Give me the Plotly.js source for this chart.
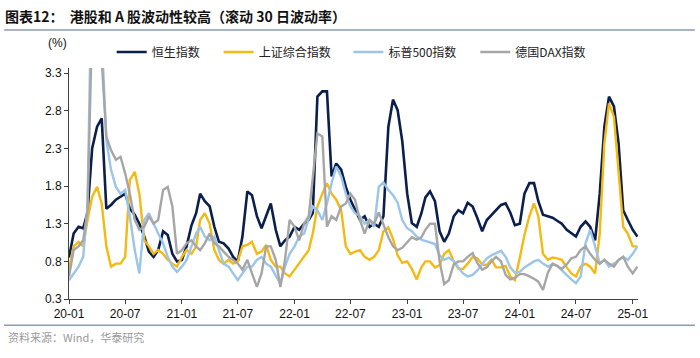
<!DOCTYPE html>
<html>
<head>
<meta charset="utf-8">
<script src="https://cdn.plot.ly/plotly-3.0.1.min.js"></script>
<style>html,body{margin:0;padding:0;background:#fff;}#chart{width:700px;height:358px;}</style>
</head>
<body>
<div id="chart"></div>
<script>
// Half-month sample grid starting 2020-01-01 (1st and 16th of each month)
const nPoints = 122;
const dates = [];
for (let i = 0; i < nPoints; i++) {
  const m = Math.floor(i / 2);
  const yr = 2020 + Math.floor(m / 12);
  const mo = (m % 12) + 1;
  dates.push(yr + '-' + String(mo).padStart(2, '0') + '-' + (i % 2 ? '16' : '01'));
}

const seriesNames = ['恒生指数', '上证综合指数', '标普500指数', '德国DAX指数'];

const hsi = [0.85,1.17,1.26,1.24,1.45,2.3,2.59,2.7,1.5,1.55,
1.62,1.66,1.7,1.5,1.42,1.3,1.13,0.93,0.86,0.95,
1.2,1.15,0.9,0.8,0.82,1.0,1.28,1.44,1.7,1.6,
1.53,1.26,1.06,1.04,0.97,0.86,0.8,1.13,1.73,1.68,
1.4,1.24,1.4,1.57,1.22,1.0,1.08,1.13,1.26,1.22,
1.3,1.35,1.44,2.99,3.06,3.06,1.93,2.1,2.02,1.79,
1.62,1.48,1.35,1.4,1.26,1.3,1.26,1.4,2.59,2.95,
2.81,2.4,1.7,1.31,1.26,1.44,1.65,1.73,1.6,1.2,
1.06,1.17,1.4,1.48,1.44,1.58,1.53,1.38,1.2,1.35,
1.42,1.48,1.55,1.57,1.45,1.28,1.3,1.7,1.84,1.84,
1.6,1.42,1.4,1.38,1.34,1.3,1.22,1.17,1.13,1.26,
1.33,1.26,1.08,1.7,2.59,2.99,2.86,2.37,1.48,1.35,
1.22,1.13];

const sse = [0.7,1.0,1.06,1.0,1.35,1.66,1.79,1.57,1.0,0.73,
0.77,0.77,0.86,1.88,1.99,1.7,1.08,1.0,0.9,0.95,
0.9,0.82,0.77,0.73,0.86,0.95,0.9,1.0,1.35,1.44,
1.3,0.95,0.82,0.77,0.82,0.77,0.8,1.0,1.02,1.06,
0.9,0.93,1.02,0.82,0.73,0.73,0.64,0.6,0.69,0.77,
0.86,0.95,1.17,1.53,1.7,1.84,1.7,1.62,1.48,1.0,
0.9,0.93,0.95,0.86,0.82,0.86,0.95,1.2,1.25,1.1,
0.88,0.78,0.8,0.7,0.56,0.72,0.8,0.8,0.72,0.75,
0.9,0.95,0.8,0.7,0.7,0.77,0.86,0.84,0.76,0.75,
0.82,0.72,0.72,0.74,0.6,0.55,0.85,1.15,1.4,1.57,
1.4,0.9,0.82,0.85,0.84,0.82,0.72,0.64,0.6,0.73,
0.77,0.73,0.64,1.17,2.37,2.9,2.72,2.02,1.26,1.17,
1.0,1.0];

const spx = [0.55,0.64,0.73,0.86,1.53,5.0,5.2,3.8,2.41,2.02,
1.79,1.7,1.75,1.4,0.95,0.64,1.35,1.44,1.3,1.17,
1.04,0.86,0.73,0.66,0.73,0.82,1.0,1.17,1.26,1.13,
1.08,1.13,0.95,0.77,0.73,0.64,0.55,0.64,0.73,0.73,
0.82,0.86,0.77,0.73,0.6,0.5,0.73,0.9,1.0,1.13,
1.17,1.35,1.53,1.48,1.35,1.57,1.84,2.06,1.93,1.7,
1.53,1.44,1.4,1.3,1.35,1.26,1.79,1.85,1.75,1.68,
1.58,1.35,1.24,1.2,1.13,1.09,1.07,1.05,1.03,0.88,
0.82,0.85,0.8,0.72,0.64,0.6,0.62,0.68,0.76,0.84,
0.88,0.91,0.94,0.86,0.72,0.65,0.66,0.72,0.76,0.8,
0.82,0.77,0.73,0.76,0.74,0.68,0.62,0.56,0.51,0.6,
1.04,1.22,1.0,0.77,0.82,0.73,0.77,0.82,0.86,0.82,
0.9,1.0];

const dax = [0.6,0.95,1.0,1.08,1.48,4.0,4.5,3.5,2.46,2.28,
2.15,2.19,1.97,1.7,1.35,1.22,1.26,1.4,1.3,1.35,
1.75,1.79,1.53,0.9,0.95,1.04,1.08,1.0,0.95,1.04,
1.17,1.04,1.0,0.93,0.86,0.82,0.77,0.69,0.82,0.64,
0.46,0.64,1.0,1.0,0.82,0.46,0.82,1.35,1.26,1.08,
1.3,1.4,1.93,2.5,2.46,1.26,1.4,1.35,1.53,1.57,
1.7,1.62,1.35,1.17,1.35,1.3,1.45,1.3,1.12,1.0,
0.95,0.98,1.06,1.12,1.09,1.12,1.22,1.3,1.3,0.8,
0.5,0.55,0.76,0.8,0.8,0.86,0.91,0.78,0.69,0.72,
0.8,0.86,0.8,0.62,0.56,0.58,0.63,0.63,0.6,0.57,
0.53,0.42,0.65,0.77,0.74,0.7,0.76,0.84,0.86,0.95,
1.0,0.9,0.82,0.77,0.82,0.77,0.73,0.82,0.86,0.73,
0.64,0.73];

const yTicks = [0.3, 0.8, 1.3, 1.8, 2.3, 2.8, 3.3];
const yTickText = ['0.3', '0.8', '1.3', '1.8', '2.3', '2.8', '3.3'];

const colors = ['#0b1f4d', '#f5b914', '#9cc5ea', '#a6a6a6'];
const widths = [2.6, 2.4, 2.4, 2.4];
const allSeries = [hsi, sse, spx, dax];
const legendIds = ['legend', 'legend2', 'legend3', 'legend4'];

const traces = allSeries.map((vals, k) => ({
  type: 'scatter', mode: 'lines', x: dates, y: vals, name: seriesNames[k],
  line: { color: colors[k], width: widths[k] }, legend: legendIds[k]
}));

const legendX = [0.075, 0.263, 0.491, 0.714];
const legendBase = (x) => ({
  x: x, y: 1.069, xanchor: 'left', yanchor: 'middle', orientation: 'h',
  bgcolor: 'rgba(0,0,0,0)', font: { family: 'Noto Sans CJK SC', size: 12, color: '#222' }
});

const layout = {
  width: 700, height: 358,
  margin: { l: 69, r: 62, t: 68, b: 59 },
  paper_bgcolor: '#fff', plot_bgcolor: '#fff',
  font: { family: 'Liberation Sans, Arial, sans-serif', size: 12, color: '#111' },
  title: {
    text: '<b>图表12：  港股和 A 股波动性较高（滚动 30 日波动率）</b>',
    xref: 'container', yref: 'container', x: 0.007, xanchor: 'left', y: 0.953, yanchor: 'middle',
    font: { family: 'Noto Sans CJK SC', size: 14, color: '#111' }
  },
  showlegend: true,
  legend: legendBase(legendX[0]),
  legend2: legendBase(legendX[1]),
  legend3: legendBase(legendX[2]),
  legend4: legendBase(legendX[3]),
  xaxis: {
    type: 'date', range: ['2020-01-01', '2025-01-18'],
    tick0: '2020-01-01', dtick: 'M6', tickformat: '%y-%m',
    showline: true, linecolor: '#404040', linewidth: 1,
    ticks: 'outside', ticklen: 4, tickcolor: '#404040',
    showgrid: false, zeroline: false,
    tickfont: { family: 'Liberation Sans, Arial, sans-serif', size: 12, color: '#111' }
  },
  yaxis: {
    range: [0.3, 3.37], tickvals: yTicks, ticktext: yTickText,
    showline: true, linecolor: '#404040', linewidth: 1,
    ticks: 'outside', ticklen: 4, tickcolor: '#404040',
    showgrid: false, zeroline: false,
    tickfont: { family: 'Liberation Sans, Arial, sans-serif', size: 12, color: '#111' }
  },
  shapes: [
    { type: 'line', xref: 'paper', yref: 'paper', x0: -0.114, x1: 1.1, y0: 1.165, y1: 1.165,
      line: { color: '#8a9bb3', width: 1.5 } },
    { type: 'line', xref: 'paper', yref: 'paper', x0: -0.114, x1: 1.1, y0: -0.114, y1: -0.114,
      line: { color: '#8a9bb3', width: 1.5 } }
  ],
  annotations: [
    { text: '(%)', xref: 'paper', yref: 'paper', x: -0.02, y: 1.11, xanchor: 'center', yanchor: 'middle',
      showarrow: false, font: { family: 'Liberation Sans, Arial, sans-serif', size: 12, color: '#111' } },
    { text: '资料来源：Wind，华泰研究', xref: 'paper', yref: 'paper', x: -0.11, y: -0.165,
      xanchor: 'left', yanchor: 'middle', showarrow: false,
      font: { family: 'Noto Sans CJK SC', size: 11, color: '#9a9a9a' } }
  ]
};

Plotly.newPlot('chart', traces, layout, { displayModeBar: false, staticPlot: true });
</script>
</body>
</html>
